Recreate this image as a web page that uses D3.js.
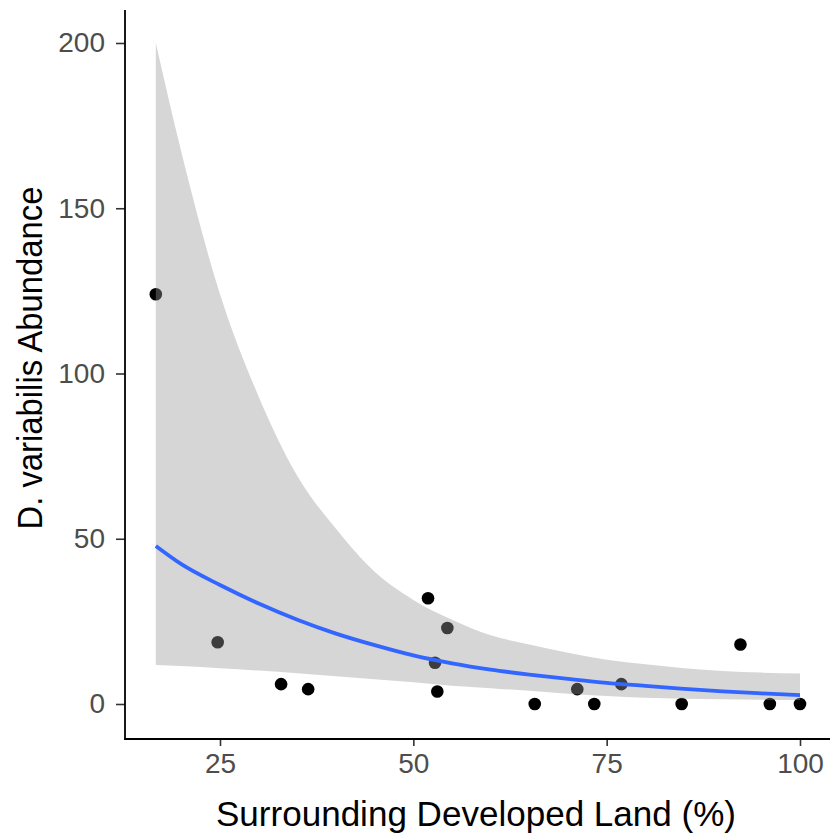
<!DOCTYPE html>
<html>
<head>
<meta charset="utf-8">
<script src="https://cdn.jsdelivr.net/npm/d3@7"></script>
<style>
  html, body { margin: 0; padding: 0; background: #fff; }
  svg { display: block; }
</style>
</head>
<body>
<svg id="chart" width="830" height="835"></svg>
<script>
// Observed data
const pctDeveloped = [16.7, 24.7, 32.9, 36.4, 51.9, 52.8, 53.1, 54.4, 65.7, 71.2, 73.4, 76.9, 84.7, 92.3, 96.1, 100];
const abundance    = [124, 18.7, 6, 4.5, 32, 12.5, 3.8, 23, 0, 4.5, 0, 6, 0, 18, 0, 0];

// Fitted curve and confidence band
const fitX     = [16.7, 20, 25, 30, 35, 40, 45, 50, 55, 60, 65, 70, 75, 80, 85, 90, 95, 100];
const fitY     = [47.8, 42.3, 36.0, 30.4, 25.5, 21.3, 17.8, 14.7, 12.3, 10.4, 8.9, 7.6, 6.4, 5.5, 4.6, 3.8, 3.2, 2.7];
const fitUpper = [200, 167, 124, 93, 69, 53, 40, 31.5, 25.5, 20.8, 18, 15.5, 13.4, 12, 10.8, 10, 9.5, 9.2];
const fitLower = [11.8, 11.5, 10.8, 10.1, 9.3, 8.4, 7.5, 6.6, 5.5, 4.8, 4.0, 3.1, 2.4, 1.9, 1.6, 1.4, 1.3, 1.2];

// Axis ticks
const xTicks = [25, 50, 75, 100];
const yTicks = [0, 50, 100, 150, 200];
const xTitle = "Surrounding Developed Land (%)";
const yTitle = "D. variabilis Abundance";

const svg = d3.select("#chart");

const x = d3.scaleLinear().domain([25, 100]).range([220, 800]);
const y = d3.scaleLinear().domain([0, 200]).range([704, 43]);

const panelLeft = 125, panelRight = 830, panelTop = 10, panelBottom = 739;

const points = pctDeveloped.map((v, i) => ({ x: v, y: abundance[i] }));
const band = fitX.map((v, i) => ({ x: v, fit: fitY[i], lo: fitLower[i], hi: fitUpper[i] }));

// points (drawn before ribbon, as in ggplot)
svg.append("g").selectAll("circle")
  .data(points).join("circle")
  .attr("cx", d => x(d.x))
  .attr("cy", d => y(d.y))
  .attr("r", 6.3)
  .attr("fill", "#000");

// ribbon
const area = d3.area()
  .x(d => x(d.x))
  .y0(d => y(d.lo))
  .y1(d => y(d.hi))
  .curve(d3.curveMonotoneX);
svg.append("path")
  .datum(band)
  .attr("d", area)
  .attr("fill", "#999999")
  .attr("fill-opacity", 0.4);

// fitted line
const line = d3.line()
  .x(d => x(d.x))
  .y(d => y(d.fit))
  .curve(d3.curveMonotoneX);
svg.append("path")
  .datum(band)
  .attr("d", line)
  .attr("fill", "none")
  .attr("stroke", "#3366FF")
  .attr("stroke-width", 3.8);

// axes
const font = "Arial, 'Liberation Sans', sans-serif";

const yAxis = svg.append("g")
  .attr("transform", `translate(${panelLeft},0)`)
  .call(d3.axisLeft(y).tickValues(yTicks).tickSize(9).tickPadding(11).tickFormat(d3.format("d")));
yAxis.select(".domain").remove();
yAxis.selectAll(".tick line").attr("stroke", "#333").attr("stroke-width", 1.6);
yAxis.selectAll(".tick text")
  .attr("fill", "#4d4d4d")
  .style("font-family", font)
  .style("font-size", "28px");

const xAxis = svg.append("g")
  .attr("transform", `translate(0,${panelBottom})`)
  .call(d3.axisBottom(x).tickValues(xTicks).tickSize(7).tickPadding(7).tickFormat(d3.format("d")));
xAxis.select(".domain").remove();
xAxis.selectAll(".tick line").attr("stroke", "#333").attr("stroke-width", 1.6);
xAxis.selectAll(".tick text")
  .attr("fill", "#4d4d4d")
  .style("font-family", font)
  .style("font-size", "28px");

// axis lines
svg.append("line")
  .attr("x1", panelLeft).attr("x2", panelLeft)
  .attr("y1", panelTop).attr("y2", panelBottom + 0.8)
  .attr("stroke", "#000").attr("stroke-width", 1.8);
svg.append("line")
  .attr("x1", panelLeft - 0.8).attr("x2", panelRight)
  .attr("y1", panelBottom).attr("y2", panelBottom)
  .attr("stroke", "#000").attr("stroke-width", 1.8);

// titles
svg.append("text")
  .attr("x", 476)
  .attr("y", 826)
  .attr("text-anchor", "middle")
  .attr("textLength", 520)
  .attr("lengthAdjust", "spacingAndGlyphs")
  .style("font-family", font)
  .style("font-size", "35px")
  .attr("fill", "#000")
  .text(xTitle);

svg.append("text")
  .attr("transform", "translate(42,358) rotate(-90)")
  .attr("text-anchor", "middle")
  .attr("textLength", 343)
  .attr("lengthAdjust", "spacingAndGlyphs")
  .style("font-family", font)
  .style("font-size", "35px")
  .attr("fill", "#000")
  .text(yTitle);
</script>
</body>
</html>
